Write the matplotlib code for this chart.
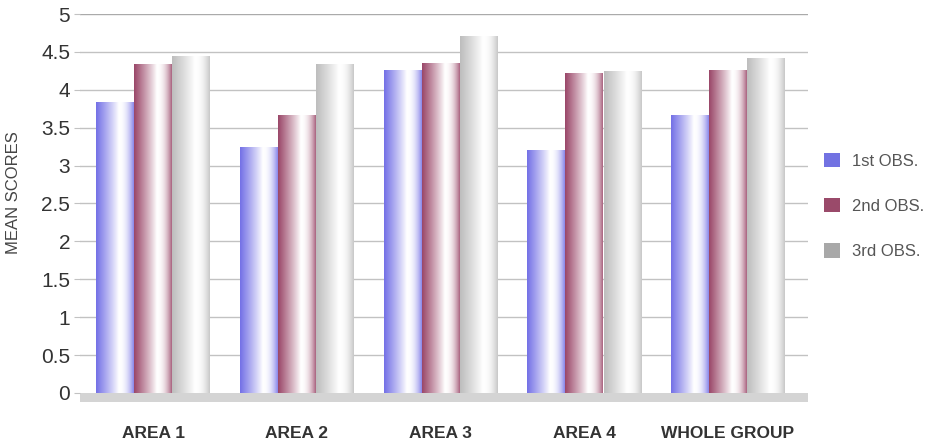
import numpy as np
import matplotlib
matplotlib.use("Agg")
import matplotlib.pyplot as plt
from matplotlib.colors import to_rgb
from matplotlib.patches import Patch

categories = ["AREA 1", "AREA 2", "AREA 3", "AREA 4", "WHOLE GROUP"]
series_names = ["1st OBS.", "2nd OBS.", "3rd OBS."]
obs1 = [3.84, 3.25, 4.26, 3.21, 3.67]
obs2 = [4.34, 3.67, 4.35, 4.22, 4.26]
obs3 = [4.45, 4.34, 4.71, 4.25, 4.42]
yticks = [0, 0.5, 1, 1.5, 2, 2.5, 3, 3.5, 4, 4.5, 5]
ytick_labels = ["0", "0.5", "1", "1.5", "2", "2.5", "3", "3.5", "4", "4.5", "5"]

bar_colors = ["#7370e6", "#9a4668", "#bdbdbd"]
legend_colors = ["#7272e2", "#9a4a6a", "#a8a8a8"]

W, H = 933, 445
fig = plt.figure(figsize=(W / 100, H / 100), dpi=100)
ax = fig.add_axes([80 / W, (H - 402) / H, (808 - 80) / W, (402 - 14) / H])

x = np.arange(len(categories))
bw = 0.26
ax.set_xlim(-0.508, 4.558)
ax.set_ylim(-0.12, 5)

# gridlines
for yv in yticks[1:]:
    ax.axhline(yv, color="#c2c2c2" if yv < 5 else "#aaaaaa", lw=1.0, zorder=0)
# floor band
ax.axhspan(-0.12, 0, color="#d4d4d4", zorder=1, lw=0)


def gradient_img(color, n=200):
    c = np.array(to_rgb(color))
    t = np.linspace(0, 1, n)
    w = np.where(t < 0.6, (1 - t / 0.6) ** 0.9, ((t - 0.6) / 0.4) ** 2.2 * 0.85)
    w = np.clip(w, 0, 1)
    img = 1 - (1 - c)[None, :] * w[:, None]
    return img[None, :, :]


all_series = [obs1, obs2, obs3]
for i, (vals, col) in enumerate(zip(all_series, bar_colors)):
    bars = ax.bar(x + (i - 1) * bw * 1.02, vals, width=bw, color="none",
                  edgecolor="none", zorder=3)
    for b in bars:
        x0, w, h = b.get_x(), b.get_width(), b.get_height()
        im = ax.imshow(gradient_img(col), extent=[x0, x0 + w, 0, h],
                       aspect="auto", zorder=2, interpolation="bilinear")
        im.set_clip_path(b)

ax.set_yticks(yticks)
ax.set_yticklabels(ytick_labels, fontsize=15, color="#333333",
                   fontfamily="Liberation Sans")
ax.tick_params(axis="y", length=4, color="#c2c2c2", pad=3)
ax.set_xticks(x)
ax.set_xticklabels(categories, fontsize=12.5, fontweight="bold", color="#333333",
                   fontfamily="Liberation Sans")
ax.tick_params(axis="x", length=0, pad=17)
for s in ax.spines.values():
    s.set_visible(False)

fig.text(14 / W, 1 - 193 / H, "MEAN SCORES", rotation=90, ha="center", va="center",
         fontsize=12, color="#444444", fontfamily="Liberation Sans")

handles = [Patch(facecolor=c, edgecolor="none") for c in legend_colors]
leg = fig.legend(handles, series_names, loc="center left",
                 bbox_to_anchor=(824 / W, 1 - 206 / H), frameon=False,
                 prop={"family": "Liberation Sans", "size": 12},
                 handlelength=0.95, handleheight=0.95, labelspacing=1.75,
                 handletextpad=0.75, borderpad=0, borderaxespad=0)
for t in leg.get_texts():
    t.set_color("#555555")

fig.savefig("out.png", dpi=100)
